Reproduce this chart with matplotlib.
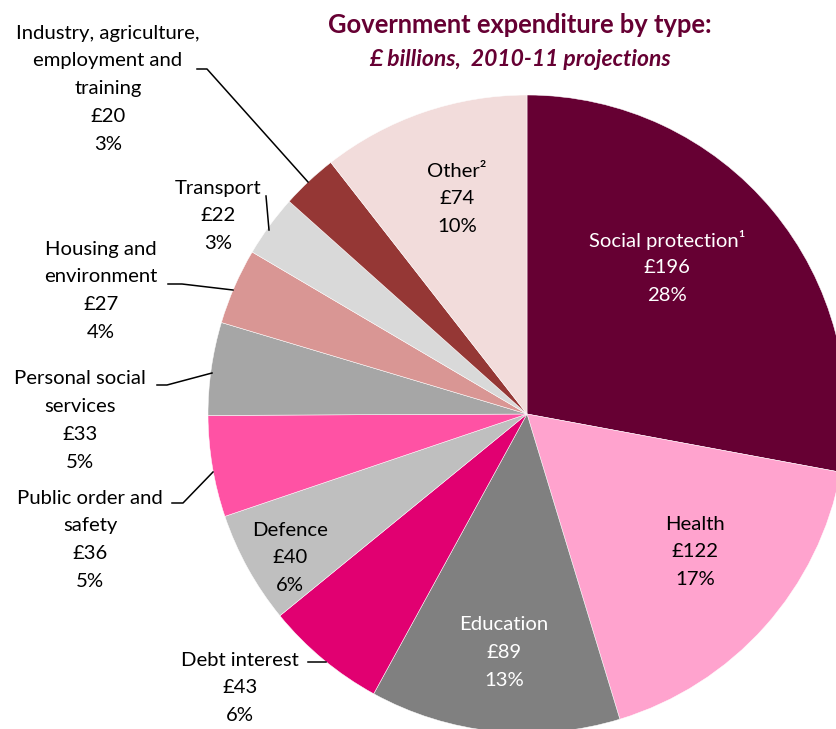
import matplotlib.pyplot as plt

# spending by function, £bn
names = ["Social protection\u00b9", "Health", "Education", "Debt interest", "Defence",
         "Public order and\nsafety", "Personal social\nservices", "Housing and\nenvironment",
         "Transport", "Industry, agriculture,\nemployment and\ntraining", "Other\u00b2"]
values = [196, 122, 89, 43, 40, 36, 33, 27, 22, 20, 74]
percents = [28, 17, 13, 6, 6, 5, 5, 4, 3, 3, 10]

col = ["#660033", "#FFA3CE", "#808080", "#E10071", "#BFBFBF", "#FF52A4",
       "#A6A6A6", "#D99694", "#D9D9D9", "#953735", "#F2DCDB"]

W, H = 837, 729
plt.rcParams['font.family'] = ['Lato', 'DejaVu Sans']

fig = plt.figure(figsize=(W / 100, H / 100), dpi=100)
ax = fig.add_axes([0, 0, 1, 1])

ax.pie(values, colors=col, startangle=90, counterclock=False,
       center=(527, H - 414), radius=319,
       wedgeprops=dict(edgecolor="white", linewidth=0.35))

# pie() rescales the axes, so fix the pixel frame afterwards
ax.set_xlim(0, W)
ax.set_ylim(0, H)
ax.set_aspect('equal')
ax.axis('off')

# label anchor (x, y of first line) in pixels from top-left, text colour
lab_pos = [(667, 240, "white"), (695, 524, "black"), (504, 625, "white"),
           (240, 660, "black"), (290, 530, "black"), (90, 498, "black"),
           (80, 379, "black"), (101, 249, "black"), (218, 188, "black"),
           (108, 33, "black"), (457, 171, "black")]

for i in range(len(values)):
    x, y, c = lab_pos[i]
    lines = names[i].split("\n") + ["\u00a3" + str(values[i]), str(percents[i]) + "%"]
    for j in range(len(lines)):
        ax.text(x, H - (y + 27.8 * j), lines[j], ha="center", va="center",
                fontsize=14.6, color=c)

# leader lines for the labels outside the pie
leaders = [
    [(197, 69), (207, 69), (308, 182)],
    [(266, 196), (269, 230)],
    [(168, 284), (182, 284), (233, 290)],
    [(157, 385), (167, 385), (212, 373)],
    [(172, 503), (183, 503), (213, 472)],
    [(308, 662), (326, 662)],
]
for pts in leaders:
    ax.plot([p[0] for p in pts], [H - p[1] for p in pts], color="black", lw=1.1)

ax.text(520, H - 25, "Government expenditure by type:", ha="center", va="center",
        fontsize=18.4, fontweight="bold", color="#660033")
ax.text(520, H - 59, "\u00a3 billions,  2010-11 projections", ha="center", va="center",
        fontsize=16.5, fontweight="bold", fontstyle="italic", color="#660033")

plt.savefig("out.png", dpi=100)
